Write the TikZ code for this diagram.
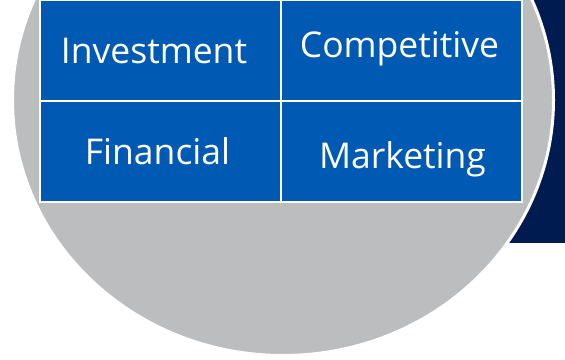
\documentclass[tikz,border=0pt]{standalone}
\usepackage{fontspec}
\setmainfont{Open Sans}
\usetikzlibrary{positioning}
\definecolor{kreisgrau}{RGB}{188,189,191}
\definecolor{navyblau}{RGB}{0,27,80}
\definecolor{feldblau}{RGB}{0,89,179}

\begin{document}
\begin{tikzpicture}[x=1pt, y=-1pt,
    feld/.style={draw=white, line width=2pt, fill=feldblau,
      minimum width=241pt, minimum height=101pt, inner sep=0pt, outer sep=0pt},
    schrift/.style={text=white, anchor=base, inner sep=0pt,
      font=\fontsize{35.5}{40}\selectfont}]
        \useasboundingbox (0,0) rectangle (565,359);
        \clip (0,0) rectangle (565,359);
        % Hintergrund rechts
        \fill[navyblau] (420,-5) rectangle (570,243);
        % Kreis
        \draw[white, line width=3pt, fill=kreisgrau] (283,100) ellipse (270.5pt and 255.5pt);
        % Felder
        \node[feld] (invest) at (160.5,50.5) {};
        \node[feld, right=0pt of invest] (compet) {};
        \node[feld, below=0pt of invest] (financ) {};
        \node[feld, right=0pt of financ] (market) {};
        % Beschriftung
        \node[schrift, xshift=-6.5pt, yshift=-13pt] (investtxt) at (invest) {Investment};
        \node[schrift, xshift=-2pt, yshift=-6.5pt] (compettxt) at (compet) {Competitive};
        \node[schrift, xshift=-3pt, yshift=-12.5pt] (financtxt) at (financ) {Financial};
        \node[schrift, xshift=1pt, yshift=-16.5pt] (markettxt) at (market) {Marketing};
    \end{tikzpicture}
\end{document}
